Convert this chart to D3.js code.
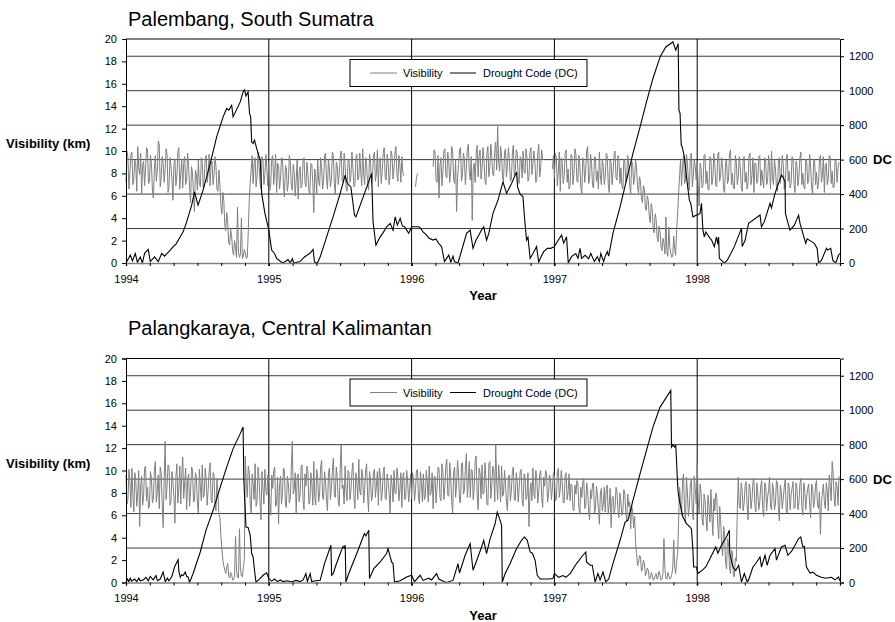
<!DOCTYPE html>
<html>
<head>
<meta charset="utf-8">
<script src="https://cdn.jsdelivr.net/npm/d3@7"></script>
<style>
  body { margin: 0; background: #fff; }
  svg { font-family: "Liberation Sans", Arial, Helvetica, sans-serif; }
  .tick text { font-size: 11px; fill: #000; }
</style>
</head>
<body>
<svg id="chart" width="895" height="622"></svg>
<script>
// years on the x axis, tick labels
const years = [1994, 1995, 1996, 1997, 1998];
const visTicks = [0, 2, 4, 6, 8, 10, 12, 14, 16, 18, 20];
const dcTicks = [0, 200, 400, 600, 800, 1000, 1200];
const stepDays = 5;   // readings every 5 days...
const halfStep = 2.5; // ...plus the in-between readings (the "b" arrays)

// Palembang visibility (km), 73 readings per year at day 0,5,10,...
const palVis1994 = [7.2,9.4,8.1,9.9,7.5,8.8,10.4,7.9,6.2,9.1,8.4,10.1,7.3,8.9,5.8,9.6,8.2,10.6,7.6,9.0,8.3,9.7,6.9,8.6,5.6,9.3,7.8,10.3,8.0,6.7,9.5,7.4,8.7,5.4,8.1,4.6,7.9,9.2,6.8,8.9,7.6,9.6,8.0,6.9,9.1,7.8,8.6,6.4,7.0,4.4,5.6,2.9,3.6,1.6,2.4,0.7,1.3,5.0,0.5,4.0,0.6,0.9,0.5,5.6,8.3,7.1,9.4,7.7,8.8,6.6,9.2,7.9,8.5];
const palVis1995 = [8.9,7.1,9.6,8.2,6.3,8.7,7.6,9.3,5.9,8.4,7.2,9.0,6.5,8.1,7.4,5.7,8.6,7.0,9.4,6.8,8.0,6.2,8.8,4.5,7.7,9.2,6.9,8.5,7.3,9.8,6.6,8.3,7.5,9.6,6.1,8.7,7.9,10.0,7.2,8.9,6.4,9.3,7.8,8.5,6.9,9.7,7.6,8.2,10.2,7.0,8.8,6.5,9.1,7.7,9.9,8.0,6.8,9.4,8.3,10.3,7.4,9.0,7.9,9.6,8.4,10.4,7.3,8.8,9.5,7.8,null,null,null];
const palVis1996 = [null,null,6.8,8.0,null,null,null,null,null,null,null,8.6,9.8,7.2,5.8,9.4,8.1,10.2,7.6,9.0,8.3,9.9,7.1,4.6,8.8,10.3,7.9,9.3,8.5,10.6,7.4,3.8,8.9,9.7,7.7,10.1,8.4,9.2,7.0,10.4,8.6,9.5,7.8,10.8,12.2,8.2,9.6,7.3,10.2,8.7,9.1,7.5,10.5,8.3,9.8,7.1,9.3,10.0,8.0,9.4,7.6,10.3,8.8,9.1,7.4,10.6,8.5,9.2,null,null,null,null,8.4];
const palVis1997 = [7.6,9.3,8.1,6.4,9.0,7.8,10.1,8.4,6.9,9.5,8.0,9.7,7.2,8.8,6.2,9.1,8.3,10.4,7.5,8.9,6.7,9.4,8.2,9.9,7.0,8.6,7.7,9.6,6.3,8.9,8.1,10.0,7.4,9.2,8.5,6.6,9.0,7.9,8.7,6.2,8.8,7.6,8.4,6.2,7.3,5.4,6.6,4.7,5.6,3.6,4.8,2.7,3.9,1.9,2.8,1.1,1.8,4.1,0.6,1.4,0.5,2.4,0.7,4.4,7.8,6.9,9.6,7.4,8.9,6.5,9.8,7.7,8.6];
const palVis1998 = [9.1,5.1,8.4,7.0,9.7,8.2,6.5,9.3,7.6,8.8,6.8,9.9,7.9,8.5,6.3,9.2,7.4,10.1,8.0,6.6,9.0,7.7,8.6,6.4,9.5,8.1,7.2,9.8,7.8,6.3,8.9,7.5,9.6,8.3,6.7,9.1,7.3,8.7,10.0,7.0,8.4,6.4,9.4,7.9,8.8,6.9,9.7,8.2,7.1,9.2,6.3,8.6,7.7,9.9,8.0,6.6,9.0,7.4,8.5,6.2,9.3,8.1,7.0,9.6,7.8,6.3,8.9,7.5,9.4,8.2,6.8,9.1,8.4];
// Palembang in-between readings (day 2.5, 7.5, ...)
const palVis1994b = [10.0,6.6,9.7,7.0,9.2,6.4,8.5,9.8,8.7,6.9,10.3,7.1,9.6,6.5,8.4,7.3,10.9,6.8,9.5,7.2,10.2,6.3,9.4,7.5,8.8,6.9,9.9,6.6,9.3,8.9,7.0,9.8,6.8,8.6,6.2,8.3,6.5,7.1,9.4,6.7,9.3,7.2,9.7,8.8,7.0,9.5,6.6,8.3,5.2,6.3,3.4,4.5,1.8,3.0,1.1,2.0,0.5,1.0,0.8,0.4,1.2,0.4,2.8,7.2,9.6,8.9,6.8,9.9,7.2,9.5,7.0,9.7,6.9];
const palVis1995b = [6.5,9.3,7.0,9.7,8.9,6.6,9.4,6.8,8.7,6.4,9.6,6.9,8.8,6.0,9.2,8.0,6.7,9.1,7.2,9.0,6.4,8.9,7.1,8.4,6.2,7.3,9.4,6.6,9.6,7.5,9.3,6.8,9.9,7.1,9.0,7.0,9.5,7.3,9.8,6.7,9.1,7.2,9.9,6.8,9.3,7.4,9.8,6.9,8.0,9.4,7.1,9.7,7.0,9.6,7.3,10.1,9.2,7.1,9.8,7.6,9.7,7.0,10.0,7.5,9.9,7.8,9.6,7.2,8.1,null,null,null,null];
const palVis1996b = [null,null,7.6,null,null,null,null,null,null,null,null,10.1,7.4,9.6,8.7,6.9,10.0,7.8,9.9,7.2,10.4,7.5,9.2,7.6,10.1,7.3,9.8,7.0,10.2,8.1,9.5,8.4,7.2,10.5,9.6,7.5,10.3,7.4,9.8,7.7,10.6,7.9,10.0,8.3,9.0,10.4,7.6,9.9,7.7,10.3,7.3,9.7,7.8,10.1,7.5,9.5,7.6,8.2,10.2,7.3,9.9,7.9,10.0,7.2,9.8,7.7,10.1,null,null,null,null,null,9.6];
const palVis1997b = [9.8,6.9,9.9,9.4,7.1,9.8,7.2,6.6,9.7,7.0,10.2,7.3,9.6,6.8,9.4,7.2,10.0,7.1,9.7,6.9,9.5,7.3,6.6,7.8,9.3,7.0,9.8,7.1,9.2,7.0,9.7,7.6,9.6,7.1,6.9,9.3,7.2,9.6,6.9,9.1,7.0,9.2,6.9,7.7,5.8,6.9,4.9,6.0,4.2,5.3,3.1,4.4,2.3,3.3,1.5,2.2,0.8,1.0,3.2,0.9,0.6,1.2,3.0,6.2,9.2,8.7,7.1,9.7,7.3,9.5,6.8,9.3,7.4];
const palVis1998b = [7.0,8.9,6.7,9.6,7.1,6.6,9.5,7.0,9.8,6.9,9.7,7.3,9.4,6.5,9.0,7.1,9.7,7.0,6.7,9.6,7.0,9.5,6.8,9.3,7.2,6.6,9.6,7.0,9.4,8.9,7.1,9.5,6.9,7.4,9.4,7.0,9.6,6.6,7.6,9.3,6.8,9.0,7.1,9.6,6.6,9.2,7.3,6.7,9.5,7.0,9.1,6.9,9.4,7.0,6.8,9.3,7.1,9.7,6.7,9.0,7.0,6.6,9.2,7.2,9.5,8.7,7.0,9.6,7.1,6.7,9.3,7.2,9.0];

// Palangkaraya visibility (km), 73 readings per year
const pkyVis1994 = [9.6,7.4,8.9,10.2,6.3,9.1,8.0,5.0,9.5,7.7,10.4,8.5,6.8,9.3,7.5,10.8,8.2,6.6,9.8,4.9,12.6,8.7,10.3,7.2,9.0,5.3,10.6,8.4,7.0,11.2,8.9,6.5,9.7,8.1,10.1,7.3,9.4,6.2,8.6,10.5,7.8,9.2,8.3,10.7,7.1,9.6,6.4,8.0,5.8,3.0,1.5,0.8,1.7,0.4,0.7,0.3,4.1,0.5,4.8,0.6,1.4,11.3,7.6,9.9,6.2,8.8,10.6,7.3,9.4,5.6,8.5,10.1,7.8];
const pkyVis1995 = [9.0,6.0,8.4,10.3,7.1,5.2,9.5,8.1,10.0,6.7,8.8,7.5,12.6,8.3,6.1,9.7,7.9,10.5,6.5,8.6,9.9,7.2,8.9,10.8,6.9,9.3,8.0,10.9,7.4,9.1,6.4,10.2,8.5,11.1,7.6,9.4,6.8,12.3,8.7,10.4,7.3,9.8,8.2,10.7,6.6,9.0,11.0,7.8,9.5,8.3,10.6,6.3,9.2,7.7,10.1,8.6,6.9,9.6,8.0,10.3,7.4,9.1,6.2,8.7,10.0,7.9,9.4,8.2,6.7,9.8,7.6,9.0,8.4];
const pkyVis1996 = [7.5,9.2,8.3,10.1,7.0,8.8,9.7,7.6,9.0,10.4,8.1,6.6,9.5,8.4,10.2,7.3,9.9,8.6,11.0,7.7,9.4,6.2,10.3,8.8,9.6,7.1,10.7,8.2,11.5,9.0,7.6,10.0,8.5,11.3,6.5,9.7,10.5,8.0,9.3,6.9,10.8,8.7,9.9,12.3,7.4,9.1,10.4,7.9,8.8,6.4,9.6,8.2,10.3,7.3,9.0,8.4,10.1,6.8,9.4,7.7,5.0,8.9,10.2,7.5,9.3,8.1,10.0,6.7,8.6,9.7,7.8,9.2,8.5];
const pkyVis1997 = [9.5,7.4,10.2,8.3,9.0,7.1,9.8,8.0,7.3,8.6,6.4,7.9,8.8,6.1,7.6,9.3,6.8,8.2,5.6,7.5,8.9,6.5,7.8,5.2,8.4,7.0,6.3,8.7,6.9,4.9,7.7,6.6,8.1,5.8,7.2,6.4,7.9,5.5,6.8,4.8,6.3,5.9,2.6,1.8,2.3,1.2,1.7,0.8,1.1,0.4,0.7,0.3,0.8,0.5,0.6,0.3,3.9,0.4,0.9,0.3,0.7,3.8,0.8,2.6,8.5,6.0,9.7,5.3,8.1,6.8,9.2,5.6,8.4];
const pkyVis1998 = [10.6,6.2,8.0,5.1,7.4,4.6,6.9,8.3,4.2,6.4,7.6,3.9,5.6,2.4,4.3,1.2,3.6,0.8,2.7,0.5,1.9,9.4,6.6,8.2,7.1,9.0,5.6,8.5,7.4,9.3,6.3,8.0,7.2,9.1,5.9,8.7,7.6,9.4,6.5,8.3,7.0,8.9,5.5,8.1,7.5,9.2,6.2,8.6,7.8,9.0,6.7,8.4,7.1,9.3,6.0,8.2,7.7,8.8,5.8,8.5,7.3,9.1,6.6,4.3,8.0,7.2,8.9,6.4,8.6,10.8,7.5,9.0,6.9];
// Palangkaraya in-between readings
const pkyVis1994b = [7.0,10.1,6.7,7.9,9.8,6.8,10.0,8.6,6.9,10.2,7.3,6.6,9.9,7.1,10.0,7.2,9.6,10.3,7.0,9.2,7.4,10.5,6.9,9.9,7.6,9.4,7.1,10.4,9.6,7.5,10.2,9.1,6.8,10.3,7.2,9.8,7.0,10.1,7.3,7.6,10.2,6.9,9.9,7.4,9.8,7.0,9.3,6.1,4.2,2.0,1.1,1.4,0.6,0.9,0.2,0.5,1.0,0.4,1.2,0.5,2.0,8.9,10.4,7.1,9.7,7.4,6.8,10.3,7.2,9.9,7.0,8.2,9.6];
const pkyVis1995b = [7.2,9.6,10.0,6.8,9.4,8.7,7.0,10.2,6.9,9.5,7.1,10.1,7.9,9.8,9.4,7.2,10.3,7.3,9.7,10.4,7.0,9.8,6.9,7.6,10.1,7.2,10.3,7.6,9.9,7.3,9.8,7.4,10.0,7.8,10.3,7.2,10.1,8.4,7.0,8.1,10.0,7.4,9.9,7.6,9.8,7.4,8.2,10.1,7.1,10.0,7.8,9.9,7.3,9.9,7.6,9.9,10.2,7.3,9.9,7.5,9.7,8.0,9.6,7.2,8.0,10.2,7.3,9.8,9.5,7.4,10.0,7.2,9.7];
const pkyVis1996b = [9.8,7.3,10.0,7.6,9.9,7.2,7.4,10.0,7.2,7.8,9.8,9.4,7.1,10.3,7.6,10.6,7.4,10.4,7.8,10.7,7.2,9.9,7.6,10.9,7.3,10.6,7.9,10.3,7.6,10.8,10.1,7.4,10.9,7.9,10.2,7.5,7.9,10.7,7.0,10.6,7.5,10.4,7.2,9.0,10.5,7.2,7.7,10.0,7.1,9.5,7.3,9.9,7.4,9.8,7.2,9.9,7.5,9.7,7.4,9.8,8.0,7.3,7.9,10.0,7.1,9.7,7.6,9.4,10.0,7.2,9.6,7.4,9.8];
const pkyVis1997b = [7.3,9.9,7.6,10.0,7.2,9.6,7.4,9.7,8.8,6.5,8.7,9.1,6.7,8.5,9.0,6.6,8.9,6.3,8.3,8.8,6.2,8.6,6.6,7.9,6.4,8.5,8.3,6.1,8.4,7.6,6.2,8.5,6.4,8.0,6.0,8.3,6.2,7.9,7.2,6.9,4.9,3.5,1.5,2.4,1.0,2.0,0.6,1.3,0.3,0.9,0.2,0.6,0.3,1.0,0.2,0.8,1.2,0.3,0.6,0.4,1.3,1.4,1.9,5.5,7.2,9.0,6.6,9.4,5.9,8.7,6.4,9.5,7.0];
const pkyVis1998b = [7.4,8.8,5.7,7.9,5.8,7.8,5.4,6.1,7.5,8.0,5.2,6.8,3.3,5.0,1.8,3.9,1.4,2.9,0.6,2.2,6.5,6.9,8.9,6.4,8.7,6.9,8.8,6.6,9.0,6.8,8.9,6.5,8.7,6.6,8.9,6.4,8.3,6.7,8.9,6.5,9.1,6.8,8.7,6.6,8.5,6.4,8.9,6.5,8.4,6.6,8.9,6.5,8.8,6.7,8.9,6.5,8.4,6.9,8.8,6.7,8.7,6.9,8.1,7.2,8.8,6.6,8.2,9.6,7.3,9.7,6.8,8.6,9.5];

// Drought Code turning points: [decimal year, DC]
const palDC = [[1994.000,0],[1994.020,30],[1994.030,46],[1994.045,12],[1994.065,55],[1994.080,5],[1994.100,35],[1994.115,0],[1994.130,56],[1994.156,79],[1994.170,8],[1994.200,35],[1994.226,8],[1994.250,56],[1994.270,40],[1994.310,75],[1994.330,95],[1994.350,110],[1994.380,152],[1994.400,181],[1994.425,239],[1994.460,336],[1994.480,413],[1994.505,336],[1994.540,423],[1994.590,578],[1994.635,732],[1994.680,848],[1994.705,897],[1994.720,887],[1994.740,916],[1994.750,848],[1994.800,935],[1994.820,993],[1994.830,1005],[1994.840,970],[1994.855,993],[1994.865,868],[1994.873,848],[1994.880,703],[1994.890,694],[1994.900,713],[1994.915,665],[1994.940,597],[1994.950,404],[1994.973,288],[1995.000,191],[1995.020,75],[1995.040,55],[1995.055,27],[1995.080,10],[1995.100,0],[1995.135,20],[1995.150,0],[1995.165,25],[1995.175,0],[1995.218,8],[1995.250,35],[1995.290,58],[1995.310,79],[1995.320,5],[1995.340,0],[1995.360,36],[1995.405,152],[1995.450,268],[1995.500,404],[1995.535,510],[1995.545,471],[1995.560,453],[1995.575,440],[1995.600,278],[1995.610,268],[1995.640,336],[1995.670,404],[1995.720,520],[1995.730,239],[1995.750,104],[1995.780,152],[1995.800,175],[1995.825,210],[1995.850,230],[1995.870,190],[1995.885,268],[1995.900,220],[1995.920,259],[1995.935,215],[1995.950,210],[1995.980,172],[1996.000,210],[1996.050,210],[1996.065,200],[1996.080,181],[1996.105,162],[1996.120,145],[1996.150,133],[1996.170,140],[1996.190,114],[1996.210,95],[1996.230,8],[1996.260,46],[1996.275,5],[1996.290,40],[1996.300,8],[1996.325,0],[1996.385,172],[1996.410,191],[1996.430,85],[1996.450,130],[1996.490,191],[1996.505,210],[1996.525,133],[1996.540,170],[1996.570,288],[1996.605,365],[1996.640,471],[1996.665,404],[1996.700,462],[1996.735,529],[1996.742,442],[1996.760,400],[1996.780,384],[1996.790,268],[1996.805,133],[1996.815,150],[1996.830,27],[1996.850,55],[1996.875,95],[1996.890,5],[1996.900,25],[1996.925,66],[1996.950,85],[1996.975,85],[1997.000,95],[1997.020,123],[1997.050,162],[1997.065,115],[1997.085,152],[1997.097,0],[1997.120,37],[1997.150,55],[1997.165,27],[1997.180,85],[1997.190,27],[1997.215,45],[1997.240,25],[1997.255,55],[1997.280,8],[1997.300,37],[1997.315,8],[1997.325,55],[1997.345,8],[1997.355,37],[1997.370,66],[1997.380,40],[1997.410,172],[1997.460,326],[1997.505,481],[1997.550,636],[1997.600,790],[1997.645,935],[1997.690,1071],[1997.740,1196],[1997.780,1254],[1997.830,1283],[1997.850,1235],[1997.867,1273],[1997.872,887],[1997.880,868],[1997.888,684],[1997.895,674],[1997.910,616],[1997.925,500],[1997.945,365],[1997.955,346],[1997.970,268],[1998.020,288],[1998.030,346],[1998.040,191],[1998.050,152],[1998.060,180],[1998.090,143],[1998.100,135],[1998.120,95],[1998.135,152],[1998.145,110],[1998.150,150],[1998.155,27],[1998.170,15],[1998.190,0],[1998.210,15],[1998.260,95],[1998.310,201],[1998.315,95],[1998.335,130],[1998.360,230],[1998.440,278],[1998.450,210],[1998.470,240],[1998.510,346],[1998.520,320],[1998.545,404],[1998.560,440],[1998.590,510],[1998.600,500],[1998.615,471],[1998.618,288],[1998.630,249],[1998.650,191],[1998.680,220],[1998.710,278],[1998.720,230],[1998.740,172],[1998.760,114],[1998.770,140],[1998.790,130],[1998.820,114],[1998.840,85],[1998.850,0],[1998.870,15],[1998.905,85],[1998.915,75],[1998.935,85],[1998.950,15],[1998.970,0],[1998.990,46],[1998.998,55]];

const pkyDC = [[1994.000,0],[1994.010,20],[1994.020,5],[1994.030,25],[1994.040,8],[1994.060,20],[1994.075,5],[1994.090,25],[1994.100,10],[1994.120,15],[1994.140,30],[1994.155,10],[1994.170,35],[1994.190,15],[1994.210,40],[1994.220,10],[1994.240,20],[1994.260,61],[1994.275,5],[1994.290,25],[1994.300,10],[1994.320,32],[1994.340,90],[1994.365,133],[1994.370,67],[1994.380,30],[1994.390,45],[1994.400,40],[1994.415,60],[1994.425,35],[1994.435,32],[1994.445,0],[1994.470,52],[1994.520,177],[1994.560,303],[1994.610,419],[1994.660,554],[1994.705,670],[1994.750,777],[1994.800,864],[1994.820,902],[1994.825,603],[1994.840,322],[1994.855,320],[1994.870,274],[1994.880,168],[1994.890,150],[1994.900,71],[1994.910,3],[1994.930,15],[1994.960,42],[1994.985,56],[1995.000,23],[1995.020,8],[1995.040,20],[1995.060,5],[1995.080,15],[1995.100,5],[1995.130,10],[1995.160,3],[1995.190,12],[1995.220,5],[1995.240,15],[1995.260,52],[1995.270,5],[1995.290,52],[1995.300,5],[1995.330,10],[1995.360,13],[1995.390,110],[1995.435,216],[1995.440,42],[1995.450,50],[1995.470,100],[1995.500,168],[1995.520,210],[1995.528,200],[1995.535,216],[1995.540,3],[1995.560,52],[1995.625,187],[1995.660,264],[1995.670,284],[1995.680,270],[1995.700,303],[1995.705,23],[1995.735,81],[1995.780,119],[1995.825,168],[1995.835,197],[1995.860,119],[1995.870,110],[1995.880,3],[1995.920,10],[1995.965,32],[1996.000,42],[1996.020,5],[1996.060,42],[1996.080,12],[1996.120,25],[1996.140,15],[1996.175,52],[1996.190,20],[1996.230,5],[1996.245,0],[1996.290,12],[1996.325,110],[1996.335,55],[1996.375,158],[1996.410,226],[1996.430,71],[1996.450,115],[1996.490,206],[1996.505,245],[1996.525,168],[1996.550,255],[1996.585,342],[1996.600,409],[1996.620,361],[1996.630,332],[1996.635,3],[1996.655,52],[1996.690,110],[1996.735,197],[1996.770,245],[1996.790,264],[1996.810,245],[1996.830,177],[1996.845,170],[1996.865,129],[1996.880,42],[1996.900,20],[1996.960,20],[1996.990,23],[1997.000,52],[1997.030,30],[1997.060,40],[1997.080,30],[1997.110,52],[1997.155,110],[1997.190,148],[1997.220,177],[1997.225,119],[1997.250,100],[1997.265,100],[1997.285,3],[1997.305,52],[1997.320,15],[1997.340,61],[1997.360,3],[1997.380,20],[1997.410,110],[1997.460,245],[1997.495,351],[1997.515,361],[1997.550,477],[1997.600,632],[1997.645,767],[1997.690,902],[1997.740,1018],[1997.785,1076],[1997.815,1115],[1997.820,786],[1997.830,800],[1997.840,786],[1997.850,796],[1997.865,535],[1997.875,477],[1997.900,380],[1997.925,342],[1997.950,322],[1997.960,310],[1997.970,187],[1997.975,90],[1997.995,90],[1998.005,52],[1998.040,75],[1998.060,90],[1998.090,139],[1998.130,206],[1998.145,170],[1998.170,216],[1998.190,245],[1998.205,264],[1998.225,303],[1998.228,168],[1998.250,90],[1998.270,70],[1998.290,100],[1998.310,3],[1998.330,52],[1998.350,3],[1998.360,15],[1998.390,90],[1998.410,110],[1998.440,148],[1998.450,90],[1998.475,158],[1998.490,100],[1998.500,129],[1998.510,158],[1998.545,197],[1998.555,130],[1998.590,206],[1998.615,216],[1998.635,158],[1998.660,180],[1998.685,216],[1998.710,255],[1998.725,264],[1998.740,206],[1998.750,210],[1998.765,90],[1998.790,55],[1998.810,60],[1998.835,42],[1998.870,30],[1998.900,25],[1998.940,30],[1998.965,15],[1998.990,32],[1998.998,10]];

// interleave the readings and the in-between readings into {t, v} points
function toSeries(main, between) {
  var out = [];
  main.forEach(function(arr, k) {
    arr.forEach(function(v, i) {
      var t0 = years[k] + (i * stepDays) / 365;
      out.push({t: t0, v: v});
      out.push({t: t0 + halfStep / 365, v: between[k][i]});
    });
  });
  return out;
}

const panels = [
  {title: "Palembang, South Sumatra", titleY: 26, top: 39,
   vis: toSeries([palVis1994, palVis1995, palVis1996, palVis1997, palVis1998],
                 [palVis1994b, palVis1995b, palVis1996b, palVis1997b, palVis1998b]),
   dc: palDC},
  {title: "Palangkaraya, Central Kalimantan", titleY: 335, top: 358.5,
   vis: toSeries([pkyVis1994, pkyVis1995, pkyVis1996, pkyVis1997, pkyVis1998],
                 [pkyVis1994b, pkyVis1995b, pkyVis1996b, pkyVis1997b, pkyVis1998b]),
   dc: pkyDC}
];

const svg = d3.select("#chart");
const plotH = 224;
const x = d3.scaleLinear().domain([1994, 1999]).range([126, 840]);

panels.forEach(function(p) {
  var top = p.top, bottom = top + plotH;
  var yVis = d3.scaleLinear().domain([0, 20]).range([bottom, top]);
  var yDC = d3.scaleLinear().domain([0, 1300]).range([bottom, top]);
  var g = svg.append("g");

  // title
  g.append("text").attr("x", 128).attr("y", p.titleY)
    .attr("font-size", "20px").text(p.title);

  // horizontal grid from the DC axis
  g.append("g").selectAll("line")
    .data(dcTicks.filter(d => d > 0))
    .enter().append("line")
    .attr("x1", x.range()[0]).attr("x2", x.range()[1])
    .attr("y1", d => yDC(d)).attr("y2", d => yDC(d))
    .attr("stroke", "#3a3a3a").attr("stroke-width", 1);

  // year grid lines
  g.append("g").selectAll("line")
    .data(years.slice(1))
    .enter().append("line")
    .attr("x1", d => x(d)).attr("x2", d => x(d))
    .attr("y1", top).attr("y2", bottom + 3)
    .attr("stroke", "#000").attr("stroke-width", 1);

  // top border
  g.append("line").attr("x1", x.range()[0]).attr("x2", x.range()[1])
    .attr("y1", top).attr("y2", top).attr("stroke", "#000");

  // visibility (grey)
  var lineVis = d3.line().defined(d => d.v != null)
    .x(d => x(d.t)).y(d => yVis(d.v));
  g.append("path").datum(p.vis)
    .attr("fill", "none").attr("stroke", "#808080").attr("stroke-width", 1)
    .attr("d", lineVis);

  // drought code (black)
  var lineDC = d3.line().x(d => x(d[0])).y(d => yDC(d[1]));
  g.append("path").datum(p.dc)
    .attr("fill", "none").attr("stroke", "#000").attr("stroke-width", 1.1)
    .attr("d", lineDC);

  // left axis
  var ax = g.append("g").attr("transform", "translate(126,0)")
    .call(d3.axisLeft(yVis).tickValues(visTicks).tickSize(4).tickPadding(5));
  ax.select(".domain").attr("stroke", "#000");

  // right axis
  var ar = g.append("g").attr("transform", "translate(840,0)")
    .call(d3.axisRight(yDC).tickValues(dcTicks).tickFormat(d3.format("d")).tickSize(4).tickPadding(5));
  ar.select(".domain").attr("stroke", "#000");

  // bottom axis with years, then bi-monthly minor ticks
  var ab = g.append("g").attr("transform", "translate(0," + bottom + ")")
    .call(d3.axisBottom(x).tickValues(years).tickFormat(d3.format("d")).tickSize(3).tickPadding(9));
  ab.select(".domain").attr("stroke", "#808080").attr("stroke-width", 1.5);
  var minor = d3.range(0, 31).map(i => 1994 + i / 6);
  g.append("g").attr("transform", "translate(0," + bottom + ")")
    .call(d3.axisBottom(x).tickValues(minor).tickFormat("").tickSize(3))
    .select(".domain").remove();

  // axis titles
  g.append("text").attr("x", 6).attr("y", top + 109)
    .attr("font-size", "13px").attr("font-weight", "bold").text("Visibility (km)");
  g.append("text").attr("x", 873).attr("y", top + 125)
    .attr("font-size", "13px").attr("font-weight", "bold").text("DC");
  g.append("text").attr("x", 483).attr("y", bottom + 37)
    .attr("text-anchor", "middle")
    .attr("font-size", "13px").attr("font-weight", "bold").text("Year");

  // legend
  var lg = g.append("g").attr("transform", "translate(350," + (top + 20.5) + ")");
  lg.append("rect").attr("width", 237).attr("height", 27)
    .attr("fill", "#fff").attr("stroke", "#000");
  lg.append("line").attr("x1", 20).attr("x2", 47).attr("y1", 13.5).attr("y2", 13.5)
    .attr("stroke", "#808080");
  lg.append("text").attr("x", 53).attr("y", 17.5).attr("font-size", "11px").text("Visibility");
  lg.append("line").attr("x1", 100).attr("x2", 126).attr("y1", 13.5).attr("y2", 13.5)
    .attr("stroke", "#000");
  lg.append("text").attr("x", 133).attr("y", 17.5).attr("font-size", "11px").text("Drought Code (DC)");
});
</script>
</body>
</html>
